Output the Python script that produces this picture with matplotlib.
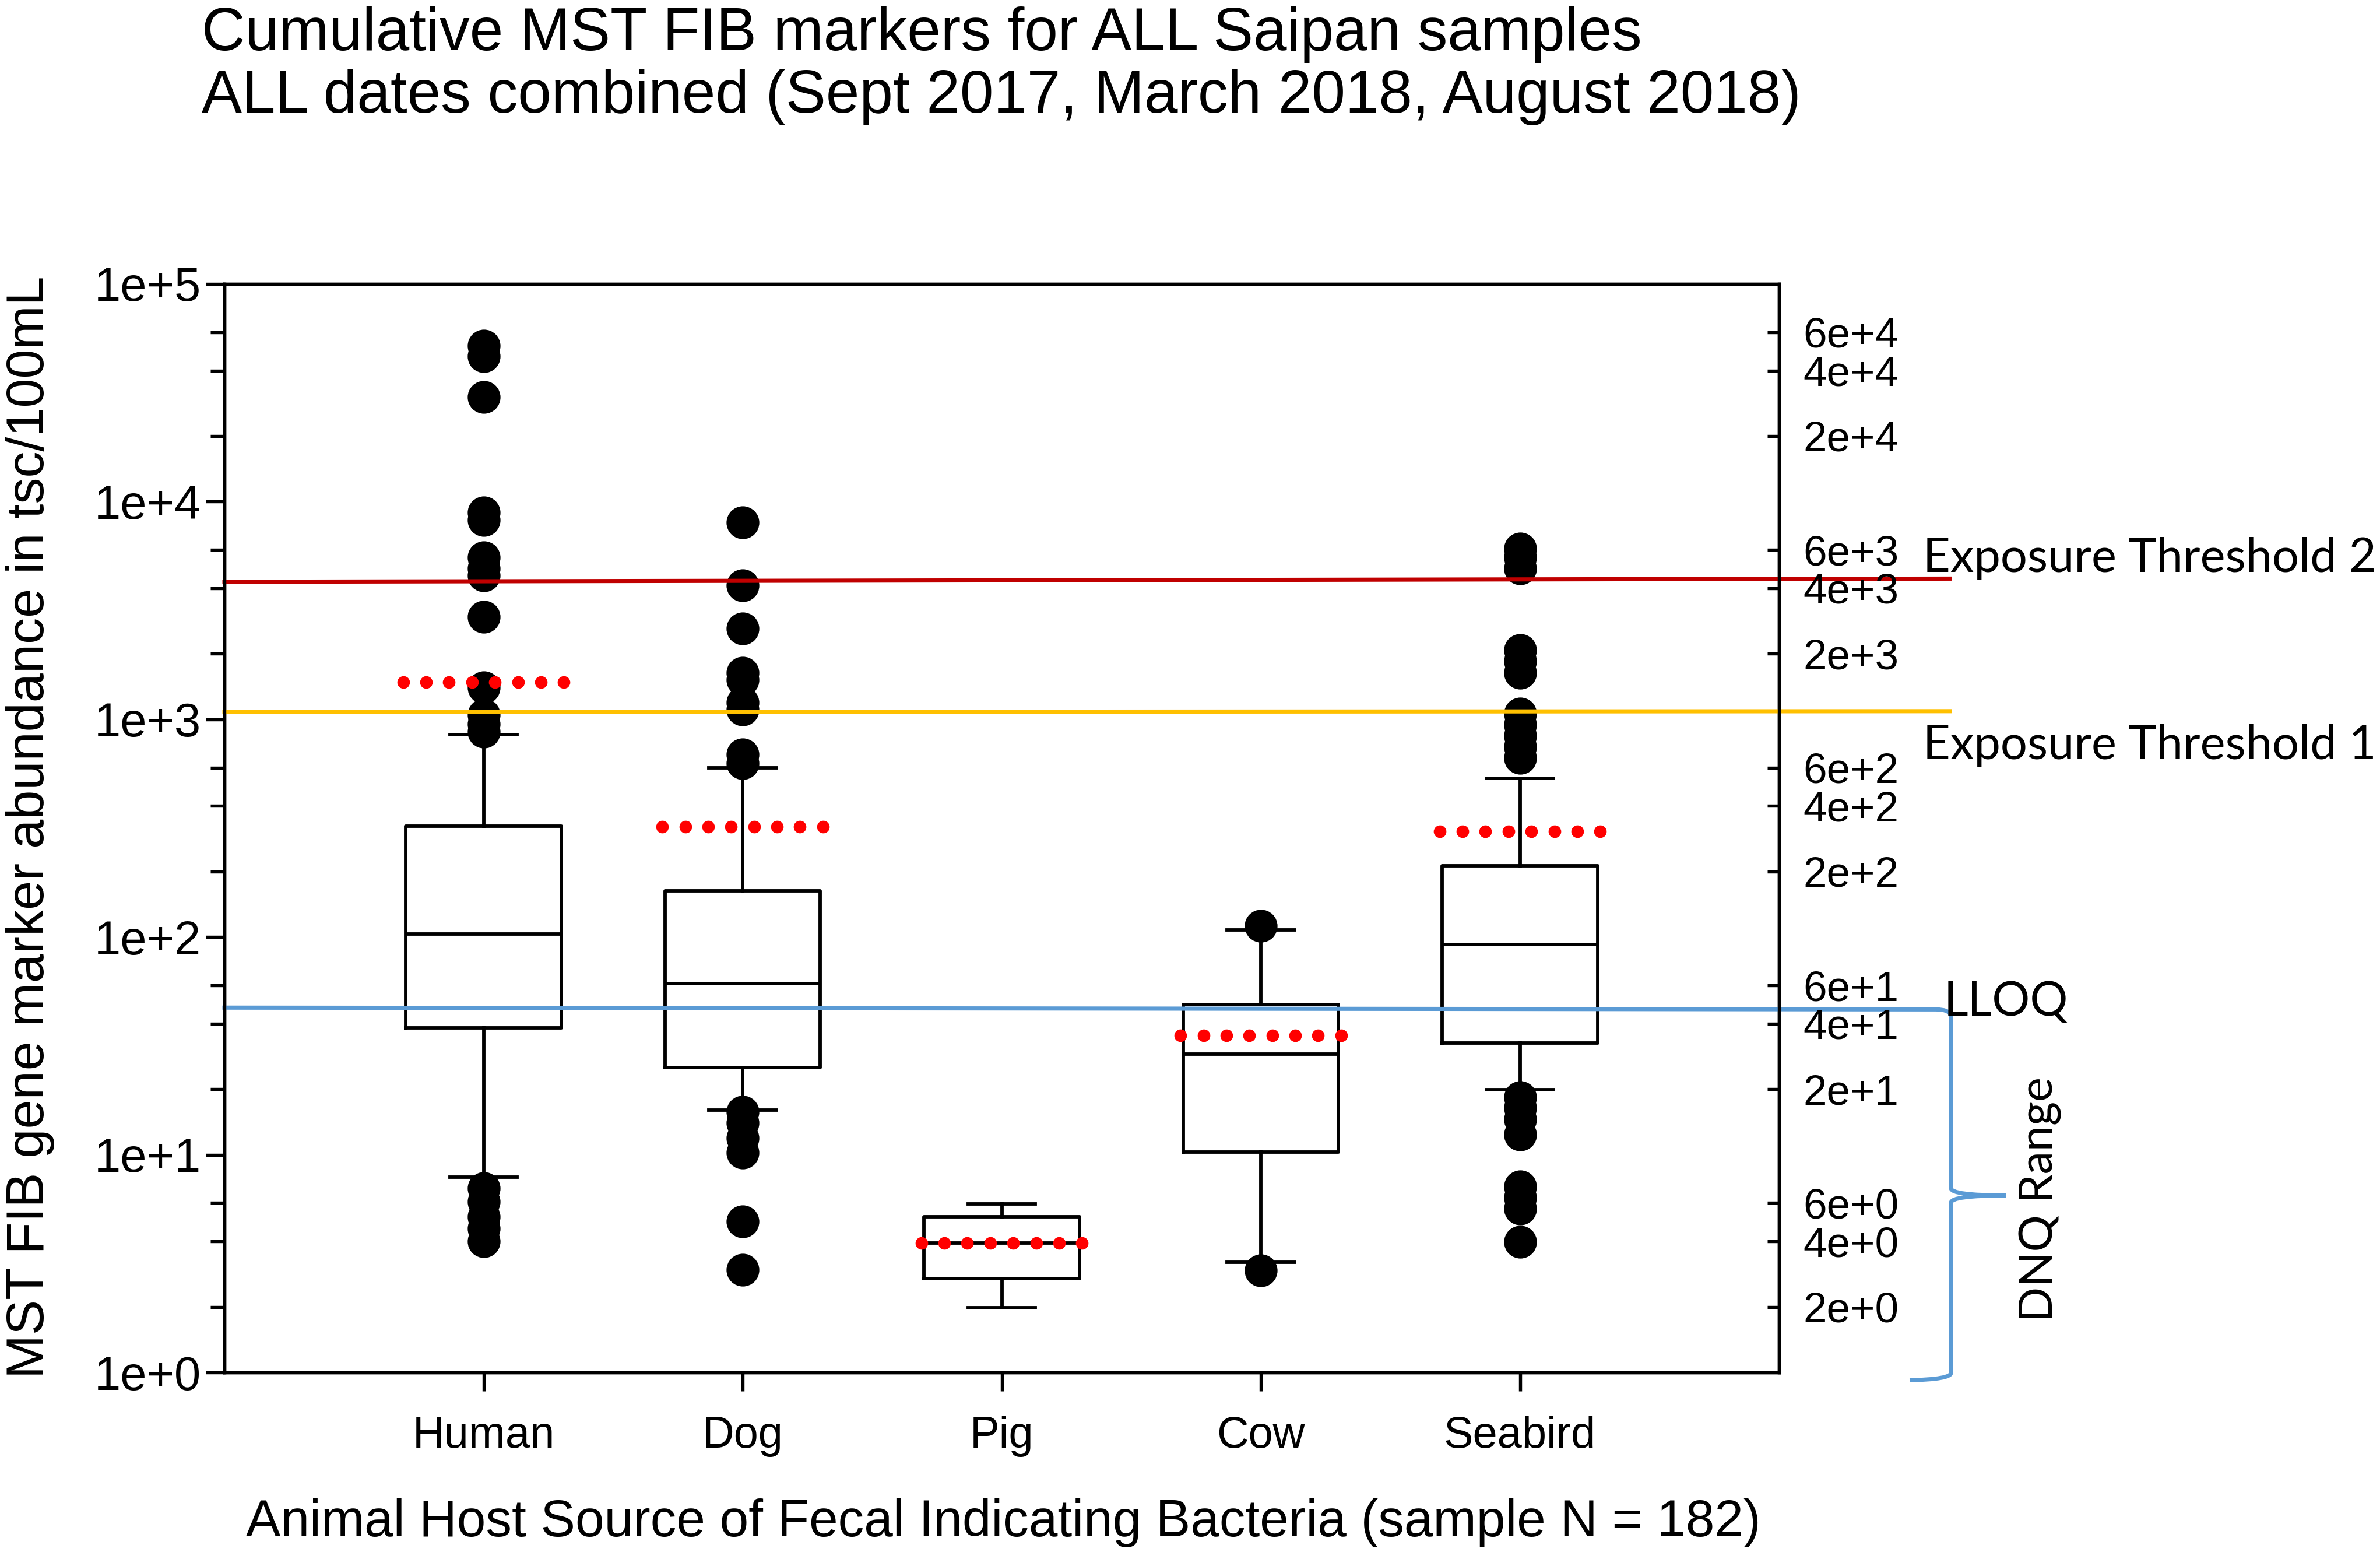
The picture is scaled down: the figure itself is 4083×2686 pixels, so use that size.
import numpy as np
import matplotlib
matplotlib.use("Agg")
import matplotlib.pyplot as plt
from matplotlib.path import Path
from matplotlib.patches import PathPatch
from matplotlib.ticker import FixedLocator, FuncFormatter, NullFormatter, NullLocator

plt.rcParams['font.family'] = ['Liberation Sans', 'DejaVu Sans']

# values (tsc/100mL)
categories = ["Human", "Dog", "Pig", "Cow", "Seabird"]
q1 = [38.3, 25.2, 2.70, 10.3, 32.5]
med = [103, 61, 3.94, 28.9, 92.6]
q3 = [324, 163, 5.19, 48.9, 213]
whislo = [7.9, 16, 1.98, 3.21, 19.9]
whishi = [853, 598, 5.93, 107.5, 536]
means = [1480, 321, 3.94, 35.4, 306]
fliers = [
    [52000, 46600, 30200, 8900, 8250, 5560, 4940, 4570, 2960, 1400, 1050, 950, 880,
     7.0, 6.1, 5.2, 4.6, 4.0],
    [8050, 4120, 2610, 1640, 1515, 1197, 1106, 690, 627,
     15.7, 14.0, 11.9, 10.2, 4.95, 2.96],
    [],
    [112.7, 2.94],
    [6100, 5560, 4940, 2076, 1845, 1640, 1063, 945, 840, 746, 663,
     18.4, 16.4, 14.5, 12.4, 7.16, 6.37, 5.65, 3.97],
]

# threshold lines (left end, right end)
threshold2 = [4285, 4430]
threshold1 = [1080, 1090]
lloq = [47.4, 46.5]
dnq_mid = 6.5
dnq_bottom = 0.93

fig = plt.figure(figsize=(4083 / 300, 2686 / 300), dpi=300)
ax = fig.add_axes([0.0943, 0.1236, 0.6532, 0.6951])

pos = np.arange(1, len(categories) + 1)
stats = []
for i, name in enumerate(categories):
    stats.append(dict(label=name, med=med[i], q1=q1[i], q3=q3[i],
                      whislo=whislo[i], whishi=whishi[i], fliers=fliers[i],
                      mean=means[i]))

lw = 1.4
ax.bxp(stats, positions=pos, widths=0.6, capwidths=0.26, showmeans=False,
       boxprops=dict(color='black', linewidth=lw),
       medianprops=dict(color='black', linewidth=lw),
       whiskerprops=dict(color='black', linewidth=lw),
       capprops=dict(color='black', linewidth=lw),
       flierprops=dict(marker='o', markerfacecolor='black', markeredgecolor='black',
                       markersize=12.5, linestyle='none'))

# mean shown as a row of red dots across the box
for p, m in zip(pos, means):
    xs = np.linspace(p - 0.31, p + 0.31, 8)
    ax.plot(xs, np.full(8, m), 'o', color='#ff0000', markersize=4.2, zorder=4)

ax.set_yscale('log')
ax.set_ylim(1, 1e5)
ax.set_xlim(0, 6)

# threshold lines running out past the right spine
xline = [0, 6.66]
ax.plot(xline, threshold2, color='#c00000', linewidth=1.7, clip_on=False, zorder=3)
ax.plot(xline, threshold1, color='#ffc000', linewidth=1.7, clip_on=False, zorder=3)
ax.plot([0, 6.60], lloq, color='#5b9bd5', linewidth=1.7, clip_on=False, zorder=3)

# curly brace for the DNQ range (x in axes fraction, y in data)
tr = ax.get_yaxis_transform()
xs_, xl, xt, xb = 1.1106, 1.101, 1.146, 1.084
ytop = lloq[1]
verts = [(xl, ytop), (xs_, ytop), (xs_, ytop * 0.92),
         (xs_, dnq_mid * 1.08), (xs_, dnq_mid), (xt, dnq_mid),
         (xs_, dnq_mid), (xs_, dnq_mid / 1.08),
         (xs_, dnq_bottom * 1.07), (xs_, dnq_bottom), (xb, dnq_bottom * 0.99)]
codes = [Path.MOVETO, Path.CURVE3, Path.CURVE3,
         Path.LINETO, Path.CURVE3, Path.CURVE3,
         Path.CURVE3, Path.CURVE3,
         Path.LINETO, Path.CURVE3, Path.CURVE3]
ax.add_patch(PathPatch(Path(verts, codes), transform=tr, fill=False,
                       edgecolor='#5b9bd5', linewidth=1.7, clip_on=False))

note_font = ['Lato', 'DejaVu Sans']
ax.text(1.0926, 5480, "Exposure Threshold 2", transform=tr, ha='left', va='center',
        fontsize=19.5, family=note_font)
ax.text(1.0926, 757, "Exposure Threshold 1", transform=tr, ha='left', va='center',
        fontsize=19.5, family=note_font)
ax.text(1.106, 50.2, "LLOQ", transform=tr, ha='left', va='center',
        fontsize=19.5, family=note_font)
ax.text(1.168, 6.24, "DNQ Range", transform=tr, ha='center', va='center',
        rotation=90, fontsize=19, family=note_font)

# left axis ticks
ax.yaxis.set_major_locator(FixedLocator(10.0 ** np.arange(0, 6)))
ax.yaxis.set_major_formatter(FuncFormatter(lambda v, _: f"1e+{int(round(np.log10(v)))}"))
ax.yaxis.set_minor_locator(FixedLocator([m * 10.0 ** k for k in range(5) for m in (2, 4, 6)]))
ax.yaxis.set_minor_formatter(NullFormatter())
ax.tick_params(axis='y', which='major', direction='out', length=7.7, width=1.3,
               pad=2, labelsize=19.5)
ax.tick_params(axis='y', which='minor', direction='out', length=5.8, width=1.3)
ax.set_xticks(pos)
ax.set_xticklabels(categories)
ax.tick_params(axis='x', direction='out', length=7.7, width=1.3, pad=10, labelsize=18.2)
for s in ax.spines.values():
    s.set_linewidth(1.3)

# right axis: labelled 2/4/6 ticks
ax2 = ax.twinx()
ax2.set_yscale('log')
ax2.set_ylim(1, 1e5)
right_ticks = [m * 10.0 ** k for k in range(5) for m in (2, 4, 6)]
ax2.yaxis.set_major_locator(FixedLocator(right_ticks))
ax2.yaxis.set_major_formatter(FuncFormatter(
    lambda v, _: f"{int(round(v / 10 ** np.floor(np.log10(v) + 1e-9)))}e+{int(np.floor(np.log10(v) + 1e-9))}"))
ax2.yaxis.set_minor_locator(NullLocator())
ax2.tick_params(axis='y', direction='in', length=4.8, width=1.3, pad=10, labelsize=17.5)
for s in ax2.spines.values():
    s.set_linewidth(1.3)

fig.text(0.0127, 0.4717, "MST FIB gene marker abundance in tsc/100mL", rotation=90,
         ha='center', va='center', fontsize=21.6)
fig.text(0.4215, 0.0276, "Animal Host Source of Fecal Indicating Bacteria (sample N = 182)",
         ha='center', va='center', fontsize=21.4)
fig.text(0.0848, 0.978, "Cumulative MST FIB markers for ALL Saipan samples",
         ha='left', va='center', fontsize=24.8)
fig.text(0.0848, 0.938, "ALL dates combined (Sept 2017, March 2018, August 2018)",
         ha='left', va='center', fontsize=24.8)

fig.savefig("out.png", dpi=300)
